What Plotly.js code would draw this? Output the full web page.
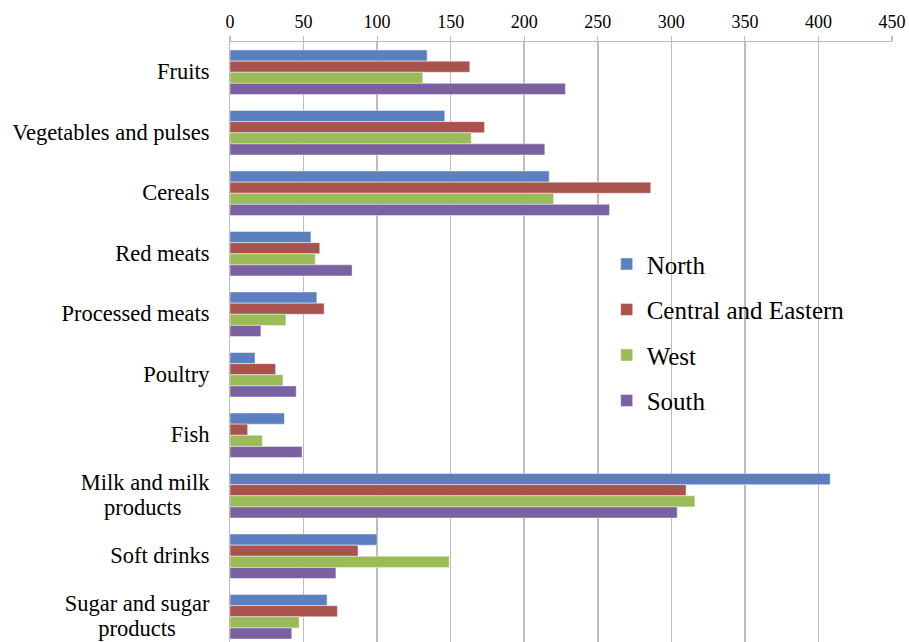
<!DOCTYPE html>
<html>
<head>
<meta charset="utf-8">
<script src="https://cdn.plot.ly/plotly-3.0.1.min.js"></script>
<style>
html,body{margin:0;padding:0;background:#fff;}
#chart{width:909px;height:642px;}
</style>
</head>
<body>
<div id="chart"></div>
<script>
var categories = ['Fruits','Vegetables and pulses','Cereals','Red meats','Processed meats','Poultry','Fish','Milk and milk products','Soft drinks','Sugar and sugar products'];
var categoryLines = [['Fruits'],['Vegetables and pulses'],['Cereals'],['Red meats'],['Processed meats'],['Poultry'],['Fish'],['Milk and milk','products\u00A0\u00A0\u00A0\u00A0\u00A0'],['Soft drinks'],['Sugar and sugar','products\u00A0\u00A0\u00A0\u00A0\u00A0\u00A0']];
var seriesNames = ['North','Central and Eastern','West','South'];
var north   = [134, 146, 217, 55, 59, 17, 37, 408, 100, 66];
var central = [163, 173, 286, 61, 64, 31, 12, 310, 87, 73];
var west    = [131, 164, 220, 58, 38, 36, 22, 316, 149, 47];
var south   = [228, 214, 258, 83, 21, 45, 49, 304, 72, 42];
var xTicks = [0,50,100,150,200,250,300,350,400,450];
var colors = ['#5B7FBF','#A9534F','#9BBB59','#7A62A1'];

var categoryLabels = categoryLines.map(function(lines){
  return lines.map(function(s){ return '<span style="font-size:22.5px">' + s + '</span>'; }).join('<br>');
});

var seriesValues = [north, central, west, south];
var traces = seriesValues.map(function(vals, i){
  return {
    type:'bar', orientation:'h',
    name: seriesNames[i], legendgroup: 'g'+i,
    x: vals, y: categories,
    marker:{color: colors[i], line:{color:'rgba(255,255,255,0.55)', width:0.8}},
    hoverinfo:'x+name'
  };
});

var serif = 'Liberation Serif, Times New Roman, serif';
var layout = {
  width:909, height:642,
  margin:{l:230, r:17, t:42, b:0, pad:0},
  paper_bgcolor:'#fff', plot_bgcolor:'#fff',
  font:{family:serif, color:'#000'},
  barmode:'group', bargap:0.265, bargroupgap:0,
  xaxis:{
    side:'top', range:[0,450], tickvals:xTicks, ticktext:xTicks.map(String),
    showgrid:true, gridcolor:'#BDBDBD', gridwidth:1.5,
    zeroline:false, showline:true, linecolor:'#BDBDBD', linewidth:1.5,
    ticks:'outside', ticklen:5, tickcolor:'#BDBDBD', tickwidth:1.2,
    tickfont:{family:serif, size:18, color:'#000'}, fixedrange:true
  },
  yaxis:{
    type:'category', range:[9.417,-0.5], autorange:false,
    tickvals:categories, ticktext:categoryLabels,
    showgrid:false, zeroline:false, showline:true, linecolor:'#BDBDBD', linewidth:1.5,
    ticks:'', ticklabelstandoff:15,
    tickfont:{family:serif, size:19.5, color:'#000'}, fixedrange:true
  },
  shapes:[{type:'rect', xref:'paper', yref:'paper', x0:0.545, x1:0.985, y0:0.365, y1:0.668,
           fillcolor:'#fff', line:{width:0}, layer:'between'}],
  legend:{
    x:0.569, xanchor:'left', y:0.668, yanchor:'top',
    bgcolor:'rgba(0,0,0,0)', borderwidth:0,
    font:{family:serif, size:25, color:'#000'}, traceorder:'grouped', tracegroupgap:10,
    itemclick:false, itemdoubleclick:false
  },
  showlegend:true
};

Plotly.newPlot('chart', traces, layout, {displayModeBar:false, staticPlot:true});
</script>
</body>
</html>
